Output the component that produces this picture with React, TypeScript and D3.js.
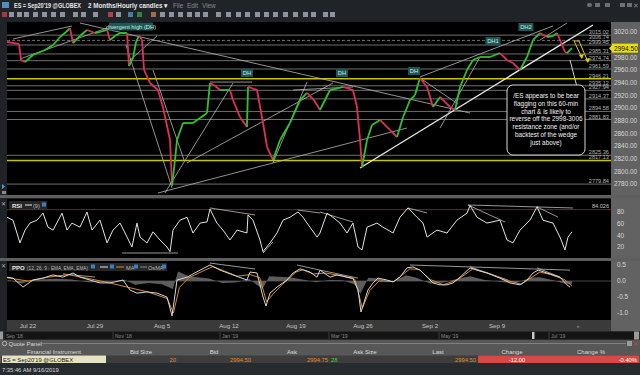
import React from "react";
import * as d3 from "d3";

// hourly session index: 0 = start of the Jul 22 week, 5 per week
const weekStarts = [0, 5, 10, 15, 20, 25, 30, 35];
const weekLabels = ["Jul 22", "Jul 29", "Aug 5", "Aug 12", "Aug 19", "Aug 26", "Sep 2", "Sep 9"];

const priceS = [-1.57, -0.67, -0.52, -0.22, 0.37, 1.27, 1.87, 2.39, 2.84, 3.13,
  3.36, 3.88, 4.4, 5.0, 5.37, 5.9, 6.12, 6.49, 6.87, 7.39,
  7.54, 7.84, 8.06, 8.28, 8.51, 8.66, 9.1, 9.7, 10.07, 10.6,
  10.75, 10.97, 11.12, 11.57, 12.31, 12.84, 13.36, 13.58, 13.96, 14.33,
  15.07, 15.3, 15.82, 16.34, 16.42, 17.09, 17.54, 17.84, 18.28, 18.81,
  19.55, 20.3, 20.82, 21.34, 21.79, 22.54, 23.51, 24.25, 24.55, 24.78,
  24.93, 25.3, 25.67, 26.27, 27.01, 27.54, 27.99, 28.51, 28.88, 29.25,
  29.78, 30.22, 30.75, 31.49, 31.87, 32.24, 32.76, 33.21, 33.73, 34.48,
  35.22, 35.75, 36.19, 36.72, 37.24, 37.69, 38.21, 38.73, 39.18, 39.48,
  39.7, 40.07, 40.22, 40.45, 40.6];
const prices = [3004.2, 3001.1, 2975.8, 2972.6, 2983.7, 2991.6, 2999.5, 3012.1, 3020.0, 3026.3,
  3002.6, 3013.7, 3023.2, 3018.4, 3020.0, 3023.2, 3007.4, 3013.7, 3018.4, 3018.4,
  2966.3, 2979.0, 3004.2, 3013.7, 3007.4, 2960.0, 2939.5, 2928.4, 2901.6, 2849.5,
  2777.5, 2817.9, 2849.5, 2876.3, 2876.3, 2884.2, 2892.1, 2939.5, 2934.7, 2928.4,
  2928.4, 2912.6, 2885.8, 2870.0, 2933.2, 2928.4, 2876.3, 2838.4, 2817.9, 2849.5,
  2876.3, 2912.6, 2923.7, 2912.6, 2896.8, 2928.4, 2933.2, 2928.4, 2901.6, 2849.5,
  2806.8, 2849.5, 2873.2, 2881.1, 2865.3, 2854.2, 2885.8, 2912.6, 2920.5, 2947.4,
  2933.2, 2901.6, 2917.4, 2901.6, 2896.8, 2933.2, 2960.0, 2975.8, 2980.5, 2980.5,
  2986.8, 2975.8, 2971.1, 2960.0, 2980.5, 3007.4, 3018.4, 3012.1, 3013.7, 3018.4,
  3007.4, 2988.4, 2986.8, 2991.6, 2994.5];
const lastPrice = 2994.5;

const priceTicks = [2780, 2800, 2820, 2840, 2860, 2880, 2900, 2920, 2940, 2960, 2980, 3020];
const levelPrices = [3015.02, 3006.74, 2999.45, 2985.31, 2974.74, 2961.59, 2946.21, 2935.12,
  2927.94, 2914.37, 2894.58, 2881.83, 2825.36, 2817.13, 2779.84];
const yellowLevels = [2946.21, 2817.13];
const dashedLevels = [3006.74];

// trendlines [s1, p1, s2, p2]
const trendlines = [
  [-1.12, 3009.0, 3.28, 3029.5], [-0.6, 2977.4, 5.9, 3026.3], [3.88, 3034.2, 32.99, 2892.1],
  [7.31, 2999.5, 10.75, 2773.7], [9.33, 2960.0, 11.64, 2817.9], [10.22, 2765.8, 15.3, 2939.5],
  [11.87, 2813.2, 22.76, 2939.5], [9.7, 2765.8, 28.28, 2868.4], [24.78, 2805.3, 42.16, 3031.1],
  [29.25, 2949.0, 39.18, 3029.5], [38.21, 3007.4, 40.22, 3034.2], [29.25, 2947.4, 32.09, 2906.3],
  [30.75, 2868.4, 33.73, 2980.5], [18.28, 2813.2, 20.82, 2941.1], [13.58, 2941.0, 16.72, 2941.0],
  [19.78, 2928.4, 24.25, 2933.2], [7.46, 2972.6, 9.63, 3013.7],
];

const dhLabels = ["DH", "DH", "DH", "DH1", "DH2"];
const dhS = [16.34, 23.43, 28.81, 34.7, 37.16];
const dhP = [2955.3, 2955.3, 2958.4, 3005.8, 3027.9];

const rsiS = [-1.57, -1.12, -0.6, -0.22, 0.15, 0.67, 1.12, 1.49, 1.87, 2.54,
  2.91, 3.28, 3.88, 4.4, 4.78, 5.37, 5.9, 6.34, 6.87, 7.24,
  7.76, 8.13, 8.36, 8.88, 9.33, 9.85, 10.37, 10.6, 10.82, 11.34,
  11.87, 12.31, 12.84, 13.36, 13.58, 14.1, 14.55, 15.07, 15.6, 16.34,
  16.42, 16.79, 17.31, 17.54, 18.06, 18.58, 19.03, 19.55, 20.15, 20.52,
  21.04, 21.57, 21.79, 22.31, 22.76, 23.28, 23.81, 24.25, 24.63, 24.93,
  25.3, 26.04, 26.49, 27.24, 27.76, 28.36, 29.03, 29.48, 29.78, 30.52,
  31.27, 32.01, 32.76, 32.99, 33.51, 34.25, 35.22, 35.75, 36.19, 36.72,
  37.46, 37.99, 38.43, 39.18, 39.7, 40.07, 40.3, 40.6];
const rsiV = [71, 66, 27, 49, 61, 66, 78, 54, 49, 78,
  49, 61, 54, 80, 49, 66, 27, 49, 61, 44,
  20, 61, 37, 27, 46, 32, 20, 12, 49, 66,
  71, 44, 61, 63, 85, 61, 49, 32, 49, 44,
  75, 66, 32, 12, 27, 44, 66, 71, 80, 71,
  54, 37, 44, 78, 71, 61, 44, 61, 20, 15,
  54, 61, 54, 44, 71, 87, 71, 61, 37, 49,
  44, 66, 78, 91, 71, 61, 66, 32, 27, 49,
  66, 89, 66, 61, 37, 15, 37, 46];
const rsiTicks = [20, 40, 60, 80];
const rsiMax = 84.026;
const rsiLines = [
  [7.01, 9.7, 11.19, 9.7], [13.58, 86.9, 16.94, 74.9], [17.54, 9.7, 18.28, 28.5],
  [20.15, 83.4, 21.79, 78.3], [21.79, 80, 24.25, 62.8], [28.36, 86.9, 29.78, 78.3],
  [32.84, 92, 35.6, 62.8], [32.84, 92, 40.67, 86.9], [37.99, 88.6, 39.55, 71.4],
];

const ppoS = [-1.57, -1.12, -0.37, 0.37, 1.12, 1.87, 2.61, 3.36, 3.88, 4.63,
  5.37, 6.12, 7.09, 7.61, 8.13, 8.88, 9.63, 10.37, 10.75, 11.12,
  11.87, 12.84, 13.58, 14.33, 15.3, 16.34, 16.57, 17.09, 17.54, 17.76,
  18.06, 18.58, 19.33, 19.78, 20.3, 21.04, 21.57, 21.79, 22.54, 23.06,
  23.81, 24.25, 24.63, 24.85, 25.37, 25.75, 26.12, 26.79, 27.24, 27.76,
  28.28, 28.73, 29.25, 29.78, 30.22, 30.75, 31.27, 31.72, 32.24, 32.99,
  33.51, 34.25, 35.22, 35.97, 36.72, 37.24, 37.69, 38.06, 38.73, 39.18,
  39.7, 40.22, 40.45];
const ppoV = [0.12, 0.09, -0.19, 0.03, 0.09, 0.19, 0.12, 0.25, 0.12, 0.03,
  -0.06, -0.06, 0.03, -0.28, -0.38, -0.34, -0.38, -0.5, -1.09, 0.03,
  0.12, 0.34, 0.5, 0.34, 0.19, 0.03, 0.28, 0.25, -0.5, -0.78,
  -0.38, -0.19, 0.03, 0.25, 0.38, 0.28, 0.12, 0.34, 0.12, 0.19,
  0.12, 0.09, -0.28, -0.97, -0.28, -0.06, 0.09, 0.03, -0.03, 0.12,
  0.41, 0.44, 0.34, 0.12, -0.06, -0.12, -0.12, -0.06, 0.12, 0.41,
  0.34, 0.25, 0.09, -0.06, -0.12, 0.03, 0.25, 0.34, 0.25, 0.19,
  0.12, -0.12, -0.19];
const maS = [-1.57, 0, 1.5, 3, 4.5, 6, 7.5, 9, 10.4, 10.85, 11.3, 12, 13, 13.8, 14.6, 15.6,
  16.6, 17.3, 17.8, 18.3, 19, 20, 20.5, 21.3, 22.2, 23.5, 24.4, 24.95, 25.5, 26.2, 27.3,
  28.5, 29.2, 30, 31, 32.1, 33.2, 34.5, 35.5, 36.8, 38.2, 39, 40, 40.6];
const maV = [0.1, 0.0, 0.12, 0.2, 0.08, -0.05, -0.2, -0.35, -0.55, -1.0, -0.2, 0.1, 0.3, 0.45, 0.32, 0.15,
  0.2, 0.1, -0.65, -0.4, -0.1, 0.28, 0.35, 0.22, 0.25, 0.15, 0.05, -0.85, -0.3, 0.0, -0.02,
  0.38, 0.36, 0.05, -0.12, 0.05, 0.38, 0.22, 0.05, -0.1, 0.28, 0.2, 0.05, -0.15];
const histS = [-1.5, -0.5, 0.5, 2, 3.3, 4.5, 6, 7.2, 8, 9, 10, 10.8, 11.2, 12, 13.5, 14.5, 15.5,
  16.5, 17.5, 18, 19.5, 20.5, 21.5, 22.5, 23.5, 24.4, 24.8, 25.4, 26.2, 27.2, 28.2, 29, 30,
  31, 32, 33, 34, 35.5, 36.5, 37.5, 38.2, 39.2, 40, 40.6];
const histV = [0.03, -0.08, 0.04, 0.07, 0.05, -0.04, -0.03, 0.04, -0.12, -0.06, -0.1, -0.25, 0.3, 0.15, 0.08, -0.06, -0.05,
  0.06, -0.25, 0.15, 0.12, 0.05, -0.04, 0.03, 0.02, -0.12, -0.4, 0.1, 0.08, -0.03, 0.18, 0.1, -0.08,
  -0.05, 0.06, 0.15, 0.04, -0.04, -0.05, 0.1, 0.12, 0.02, -0.08, -0.1];
const ppoTicks = [-1, -0.5, 0, 0.5];
const ppoLines = [
  [2.61, 0.22, 5.0, 0.125], [13.58, 0.56, 16.94, 0.375], [20.07, 0.5, 21.79, 0.34],
  [21.79, 0.34, 24.63, 0.09], [28.51, 0.5, 40.45, 0.34], [32.99, 0.44, 35.82, 0.03],
  [37.99, 0.41, 39.7, 0.125],
];

const navLabels = ["Sep '18", "Nov '18", "Jan '19", "Mar '19", "May '19", "Jul '19"];
const quoteHeaders = ["Financial Instrument", "Bid Size", "Bid", "Ask", "Ask Size", "Last", "Change", "Change %"];
const noteLines = ["/ES appears to be bear", "flagging on this 60-min", "chart & is likely to",
  "reverse off the 2998-3006", "resistance zone (and/or", "backtest of the wedge", "just above)"];

const FONT = "'Liberation Sans', Arial, sans-serif";
const L = 7, R = 611;
const MAIN = [22, 195], RSI = [199, 258], PPO = [261, 320];

export default function App() {
  const x = d3.scaleLinear().domain([0, 40]).range([28, 564]);
  const yP = d3.scaleLinear().domain([2780, 3020]).range([184, 32]);
  const yR = d3.scaleLinear().domain([20, 80]).range([247, 212]);
  const yO = d3.scaleLinear().domain([-1, 0.5]).range([313, 265]);

  const rsiPath = d3.line<number>().x((d, i) => x(rsiS[i])).y((d) => yR(d))(rsiV) || "";
  const ppoPath = d3.line<number>().x((d, i) => x(ppoS[i])).y((d) => yO(d))(ppoV) || "";
  const maPath = d3.line<number>().x((d, i) => x(maS[i])).y((d) => yO(d))(maV) || "";
  const histPath = d3.area<number>().x((d, i) => x(histS[i])).y0(yO(0)).y1((d) => yO(d))(histV) || "";

  const quoteX = [54, 141, 214, 292, 365, 438, 512, 591];
  const navX = [4, 113, 220, 329, 439, 549];
  const toolX = [4, 11, 19, 26, 35, 44, 53, 62, 75, 83, 95, 110, 118, 130, 139, 153, 162, 171, 180,
    189, 197, 205, 218, 228, 238, 247, 257, 266, 275, 285, 295, 305, 313, 325, 332];

  return (
    <svg width={640} height={375} style={{ position: "fixed", left: 0, top: 0, background: "#1f2327" }}
      fontFamily={FONT}>
      <defs>
        <clipPath id="cMain"><rect x={L} y={MAIN[0]} width={R - L} height={MAIN[1] - MAIN[0]} /></clipPath>
        <clipPath id="cRsi"><rect x={L} y={RSI[0]} width={R - L} height={RSI[1] - RSI[0]} /></clipPath>
        <clipPath id="cPpo"><rect x={L} y={PPO[0]} width={R - L} height={PPO[1] - PPO[0]} /></clipPath>
      </defs>

      {/* title bar + toolbar */}
      <rect x={0} y={0} width={640} height={22} fill="#202428" />
      <rect x={2} y={2} width={7} height={6} fill="#4a90c0" />
      <text x={14} y={8} fontSize={6.6} fontWeight="bold" fill="#e6e6e6" textLength={67} lengthAdjust="spacingAndGlyphs">ES = Sep20'19 @GLOBEX</text>
      <text x={88} y={8} fontSize={6.6} fontWeight="bold" fill="#e6e6e6" textLength={80} lengthAdjust="spacingAndGlyphs">2 Months/Hourly candles ▾</text>
      <text x={173} y={8} fontSize={6.4} fill="#8a8a8a">File</text>
      <text x={187} y={8} fontSize={6.4} fill="#8a8a8a">Edit</text>
      <text x={202} y={8} fontSize={6.4} fill="#8a8a8a">View</text>
      {[587, 595, 605, 620, 627].map((px, i) => (
        <rect key={i} x={px} y={3} width={5} height={4} fill="#6f6f6f" rx={i === 0 ? 2 : 0} />
      ))}
      <text x={633} y={8} fontSize={7} fill="#8a8a8a">✕</text>
      {toolX.map((px, i) => (
        <rect key={i} x={px - 2} y={12} width={5} height={5}
          fill={i === 0 ? "#c04040" : i === 11 ? "#d04a4a" : i === 13 ? "#5a8fc0" : i === 14 ? "#3a9a4a" : i === 15 ? "#c08050" : "#a9b0b8"} opacity={0.8} />
      ))}

      {/* chart panels */}
      <rect x={L} y={MAIN[0]} width={R - L} height={MAIN[1] - MAIN[0]} fill="#000" />
      <rect x={L} y={RSI[0]} width={R - L} height={RSI[1] - RSI[0]} fill="#000" />
      <rect x={L} y={PPO[0]} width={R - L} height={PPO[1] - PPO[0]} fill="#000" />
      <rect x={R} y={MAIN[0]} width={640 - R} height={PPO[1] - MAIN[0]} fill="#626262" />
      <rect x={0} y={MAIN[1]} width={640} height={3} fill="#5e5e5e" />
      <rect x={0} y={RSI[1]} width={640} height={3} fill="#5e5e5e" />
      <path d="M2,184 L5,186.5 L2,189 Z" fill="#3fa9d9" />
      <rect x={2} y={191} width={4} height={3} fill="#888" />

      {/* main price panel */}
      <g clipPath="url(#cMain)">
        {levelPrices.map((p) => {
          const yellow = yellowLevels.includes(p);
          return (
            <line key={p} x1={L} x2={R} y1={yP(p)} y2={yP(p)}
              stroke={yellow ? "#c8c400" : "#8c8c8c"} strokeWidth={yellow ? 1.4 : 0.8}
              strokeDasharray={dashedLevels.includes(p) ? "3,2" : undefined} />
          );
        })}
        {trendlines.map((t, i) => (
          <line key={i} x1={x(t[0])} y1={yP(t[1])} x2={x(t[2])} y2={yP(t[3])}
            stroke={i === 8 ? "#e8e8e8" : "#b8b8b8"} strokeWidth={i === 8 ? 1.3 : 0.8} />
        ))}
        {prices.slice(1).map((p, i) => (
          <line key={i} x1={x(priceS[i])} y1={yP(prices[i])} x2={x(priceS[i + 1])} y2={yP(p)}
            stroke={p >= prices[i] ? "#2fc22f" : "#e0305a"} strokeWidth={1.8} />
        ))}
        {/* yellow projection arrows */}
        <g stroke="#e0d000" strokeWidth={1} fill="none">
          <polyline points={`${x(40.75)},${yP(3005.8)} ${x(41.12)},${yP(3005.8)} ${x(41.79)},${yP(2972.6)}`} />
          <line x1={x(40.75)} y1={yP(3005.8)} x2={x(41.34)} y2={yP(2979)} />
        </g>
        <path d={`M${x(41.34) - 3},${yP(2979) - 3} L${x(41.34)},${yP(2979) + 1} L${x(41.34) + 2},${yP(2979) - 4}`} fill="#e0d000" />
        <path d={`M${x(41.79) - 3},${yP(2972.6) - 3} L${x(41.79)},${yP(2972.6) + 1} L${x(41.79) + 2},${yP(2972.6) - 4}`} fill="#e0d000" />
        <line x1={x(40.45)} y1={yP(2975.8)} x2={x(40.97)} y2={yP(2933.2)} stroke="#d0d0d0" strokeWidth={1} />
      </g>
      {levelPrices.map((p) => (
        <text key={p} x={609} y={yP(p) - 1} fontSize={5.6} fill="#b4b4b4" textAnchor="end">{p.toFixed(2)}</text>
      ))}
      {priceTicks.map((p) => (
        <text key={p} x={614} y={yP(p) + 2.2} fontSize={6.4} fill="#d8d8d8">{p.toFixed(2)}</text>
      ))}
      <rect x={612} y={yP(lastPrice) - 4.5} width={26} height={9} fill="#e8e000" />
      <path d={`M609,${yP(lastPrice)} L612,${yP(lastPrice) - 3} L612,${yP(lastPrice) + 3} Z`} fill="#e8e000" />
      <text x={614} y={yP(lastPrice) + 2.4} fontSize={6.6} fill="#111">{lastPrice.toFixed(2)}</text>

      {/* DH labels */}
      <rect x={x(7.69) - 22} y={yP(3027.9) - 4.5} width={44} height={8} fill="#1e5856" />
      <text x={x(7.69)} y={yP(3027.9) + 1.8} fontSize={5.8} fill="#cfe6e4" textAnchor="middle">divergent high (DH)</text>
      {dhLabels.map((t, i) => (
        <g key={i}>
          <rect x={x(dhS[i]) - (t.length > 2 ? 7.5 : 6)} y={yP(dhP[i]) - 4} width={t.length > 2 ? 15 : 12} height={8} fill="#1e5856" />
          <text x={x(dhS[i])} y={yP(dhP[i]) + 2} fontSize={5.8} fill="#cfe6e4" textAnchor="middle">{t}</text>
        </g>
      ))}

      {/* callout */}
      <rect x={507} y={85} width={78} height={70} rx={6} fill="#000" stroke="#d8d8d8" strokeWidth={1} />
      {noteLines.map((t, i) => (
        <text key={i} x={546} y={98 + i * 7.8} fontSize={6.4} fill="#f2f2f2" textAnchor="middle">{t}</text>
      ))}

      {/* RSI panel */}
      <g clipPath="url(#cRsi)">
        <line x1={L} x2={R} y1={yR(rsiMax)} y2={yR(rsiMax)} stroke="#8e1b22" strokeWidth={1} />
        {rsiLines.map((t, i) => (
          <line key={i} x1={x(t[0])} y1={yR(t[1])} x2={x(t[2])} y2={yR(t[3])} stroke="#bdbdbd" strokeWidth={0.8} />
        ))}
        <path d={rsiPath} fill="none" stroke="#e4e4e4" strokeWidth={1} />
      </g>
      <text x={609} y={yR(rsiMax) - 1.5} fontSize={5.6} fill="#c8c8c8" textAnchor="end">{rsiMax.toFixed(3)}</text>
      {rsiTicks.map((v) => (
        <text key={v} x={617} y={yR(v) + 2.2} fontSize={6.4} fill="#d8d8d8">{v}</text>
      ))}
      <rect x={9} y={201} width={38} height={8} fill="#262626" />
      <text x={12} y={207.5} fontSize={6} fontWeight="bold" fill="#e8e8e8">RSI</text>
      <line x1={25} x2={32} y1={205} y2={205} stroke="#e8e8e8" strokeWidth={1} />
      <text x={33} y={207.5} fontSize={5.6} fill="#bbb">(9)</text>
      <rect x={42} y={202.5} width={4} height={4} fill="#3b7fc4" />
      <text x={1} y={206} fontSize={6} fill="#aaa">✕</text>

      {/* PPO panel */}
      <g clipPath="url(#cPpo)">
        <line x1={L} x2={R} y1={yO(0)} y2={yO(0)} stroke="#555" strokeWidth={0.8} />
        <path d={histPath} fill="#5c5c5c" />
        {ppoLines.map((t, i) => (
          <line key={i} x1={x(t[0])} y1={yO(t[1])} x2={x(t[2])} y2={yO(t[3])} stroke="#bdbdbd" strokeWidth={0.8} />
        ))}
        <path d={maPath} fill="none" stroke="#d8892c" strokeWidth={1} />
        <path d={ppoPath} fill="none" stroke="#d8d8d8" strokeWidth={1} />
      </g>
      {ppoTicks.map((v) => (
        <text key={v} x={617} y={yO(v) + 2.2} fontSize={6.4} fill="#d8d8d8">{v.toFixed(1)}</text>
      ))}
      <rect x={9} y={263} width={158} height={8} fill="#262626" />
      <text x={12} y={269.5} fontSize={6} fontWeight="bold" fill="#e8e8e8">PPO</text>
      <text x={27} y={269.5} fontSize={5.6} fill="#bbb" textLength={61} lengthAdjust="spacingAndGlyphs">(12, 26, 9 - EMA, EMA, EMA)</text>
      <rect x={91} y={264.5} width={4} height={4} fill="#3b7fc4" />
      <line x1={100} x2={108} y1={267} y2={267} stroke="#e8e8e8" strokeWidth={1} />
      <rect x={110} y={264.5} width={4} height={4} fill="#3b7fc4" />
      <line x1={116} x2={124} y1={267} y2={267} stroke="#d8892c" strokeWidth={1} />
      <text x={126} y={269.5} fontSize={5.6} fill="#bbb">MA</text>
      <rect x={134} y={264.5} width={4} height={4} fill="#3b7fc4" />
      <line x1={140} x2={147} y1={267} y2={267} stroke="#888" strokeWidth={1} />
      <text x={148} y={269.5} fontSize={5.6} fill="#bbb">OsMA</text>
      <rect x={162} y={264.5} width={4} height={4} fill="#3b7fc4" />
      <text x={1} y={268} fontSize={6} fill="#aaa">✕</text>

      {/* date axis */}
      <rect x={L} y={320} width={R - L} height={11} fill="#3a3a3a" />
      <rect x={R} y={320} width={640 - R} height={11} fill="#626262" />
      {weekStarts.map((s, i) => (
        <text key={s} x={x(s)} y={328} fontSize={6.2} fill="#c4c4c4" textAnchor="middle">{weekLabels[i]}</text>
      ))}
      <text x={578} y={328} fontSize={5.5} fill="#999" textAnchor="middle">»</text>

      {/* navigator */}
      <rect x={0} y={331} width={640} height={9} fill="#2a2a2a" />
      <rect x={3} y={332} width={632} height={7} fill="#141414" />
      {navLabels.map((t, i) => (
        <g key={t}>
          <line x1={navX[i]} x2={navX[i]} y1={332} y2={339} stroke="#555" strokeWidth={0.6} />
          <text x={navX[i] + 2} y={338} fontSize={5} fill="#8a8a8a">{t}</text>
        </g>
      ))}
      <rect x={532} y={332} width={2.5} height={7} fill="#c8c8c8" />
      <rect x={634} y={331.5} width={5} height={8} fill="#9a9a9a" />
      <rect x={0} y={331.5} width={3} height={8} fill="#9a9a9a" />

      {/* quote panel */}
      <rect x={0} y={340} width={640} height={23} fill="#575757" />
      <circle cx={4.5} cy={343.5} r={2.2} fill="none" stroke="#ddd" strokeWidth={0.7} />
      <text x={8.5} y={345.8} fontSize={6} fill="#d8d8d8">Quote Panel</text>
      <line x1={42} x2={626} y1={343.5} y2={343.5} stroke="#8a8a8a" strokeWidth={0.8} />
      <rect x={627} y={341} width={5} height={5} fill="#9a9a9a" />
      <text x={633} y={346} fontSize={6} fill="#d04040">✕</text>
      {quoteHeaders.map((h, i) => (
        <text key={h} x={quoteX[i]} y={353.5} fontSize={6} fill="#dcdcdc" textAnchor="middle">{h}</text>
      ))}
      <rect x={1} y={355.5} width={638} height={7.5} fill="#3d3d3d" />
      <rect x={2} y={355.5} width={104} height={7.5} fill="#e5e3c4" />
      <text x={3} y={361.5} fontSize={5.8} fill="#222">ES = Sep20'19 @GLOBEX</text>
      <text x={176} y={361.5} fontSize={5.8} fill="#e08a2e" textAnchor="end">20</text>
      <text x={251} y={361.5} fontSize={5.8} fill="#e08a2e" textAnchor="end">2994.50</text>
      <text x={328} y={361.5} fontSize={5.8} fill="#e08a2e" textAnchor="end">2994.75</text>
      <text x={331} y={361.5} fontSize={5.8} fill="#3ed23e">28</text>
      <text x={476} y={361.5} fontSize={5.8} fill="#e08a2e" textAnchor="end">2994.50</text>
      <rect x={478} y={355.5} width={161} height={7.5} fill="#d94848" />
      <text x={517} y={361.5} fontSize={5.8} fill="#fff" textAnchor="middle">-12.00</text>
      <text x={637} y={361.5} fontSize={5.8} fill="#fff" textAnchor="end">-0.40%</text>

      {/* status bar */}
      <rect x={0} y={363} width={640} height={12} fill="#262b30" />
      <text x={2} y={371.5} fontSize={5.8} fill="#d8d8d8">7:35:46 AM 9/16/2019</text>
    </svg>
  );
}
